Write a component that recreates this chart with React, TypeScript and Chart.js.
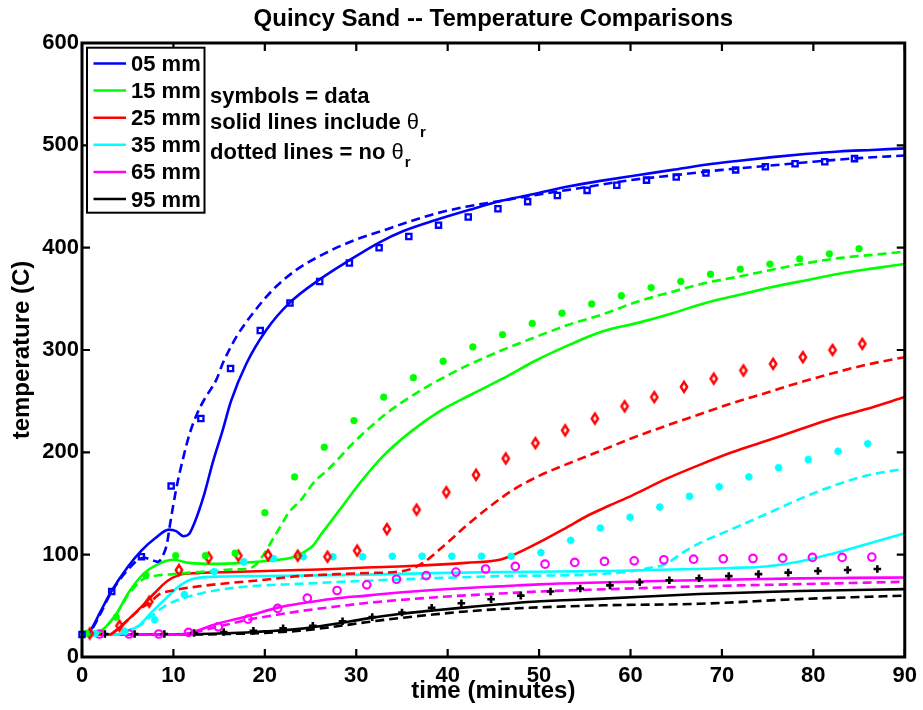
import React, { useEffect, useRef } from 'react';
import { Chart, registerables } from 'chart.js';

Chart.register(...registerables);

// ---------- axes ----------
const X_TICKS = [0, 10, 20, 30, 40, 50, 60, 70, 80, 90];
const Y_TICKS = [0, 100, 200, 300, 400, 500, 600];
const TITLE = 'Quincy Sand -- Temperature Comparisons';
const X_LABEL = 'time (minutes)';
const Y_LABEL = 'temperature (C)';

const SERIES_LABELS = ['05 mm', '15 mm', '25 mm', '35 mm', '65 mm', '95 mm'];
const SERIES_COLORS = ['#0000ff', '#00ff00', '#ff0000', '#00ffff', '#ff00ff', '#000000'];
const NOTE_LINES = ['symbols = data', 'solid lines include ', 'dotted lines = no '];

// ---------- measured data (symbols) ----------
const D05_T = [0, 3.25, 6.5, 9.75, 13, 16.25, 19.5, 22.75, 26, 29.25, 32.5, 35.75, 39, 42.25, 45.5, 48.75, 52, 55.25, 58.5, 61.75, 65, 68.25, 71.5, 74.75, 78, 81.25, 84.5];
const D05_Y = [22, 64, 98, 167, 233, 282, 319, 346, 367, 385, 400, 411, 422, 430, 438, 445, 451, 456, 461, 466, 469, 473, 476, 479, 482, 484, 487];

const D15_T = [0.5, 3.75, 7, 10.25, 13.5, 16.75, 20, 23.25, 26.5, 29.75, 33, 36.25, 39.5, 42.75, 46, 49.25, 52.5, 55.75, 59, 62.25, 65.5, 68.75, 72, 75.25, 78.5, 81.75, 85];
const D15_Y = [23, 39, 80, 99, 99, 101.5, 141, 176, 205, 231, 254, 273, 289, 303, 315, 326, 336, 345, 353, 361, 367, 374, 379, 384, 389, 394, 399];

const D25_T = [0.85, 4.1, 7.35, 10.6, 13.85, 17.1, 20.35, 23.6, 26.85, 30.1, 33.35, 36.6, 39.85, 43.1, 46.35, 49.6, 52.85, 56.1, 59.35, 62.6, 65.85, 69.1, 72.35, 75.6, 78.85, 82.1, 85.35];
const D25_Y = [23, 30.5, 54, 85, 97, 99, 99.5, 99, 98, 104, 125, 144, 161, 178, 194, 209, 221.5, 233, 245, 254, 264, 272, 280, 286.5, 293, 300, 306];

const D35_T = [1.45, 4.7, 7.95, 11.2, 14.45, 17.7, 20.95, 24.2, 27.45, 30.7, 33.95, 37.2, 40.45, 43.7, 46.95, 50.2, 53.45, 56.7, 59.95, 63.2, 66.45, 69.7, 72.95, 76.2, 79.45, 82.7, 85.95];
const D35_Y = [23, 25, 36.5, 61, 83.5, 93, 96, 98, 98, 98, 98.5, 98.5, 98.5, 98.5, 98.5, 102, 114, 126, 136.5, 146.5, 157, 166.5, 176, 185, 193, 201, 208.5];

const D65_T = [1.9, 5.15, 8.4, 11.65, 14.9, 18.15, 21.4, 24.65, 27.9, 31.15, 34.4, 37.65, 40.9, 44.15, 47.4, 50.65, 53.9, 57.15, 60.4, 63.65, 66.9, 70.15, 73.4, 76.65, 79.9, 83.15, 86.4];
const D65_Y = [22.5, 22.5, 22.5, 24, 29.5, 37, 47.5, 57.5, 65, 70.5, 76, 79.5, 83, 86, 88.5, 90.7, 92.4, 93.4, 94, 95, 95.6, 96, 96.3, 96.6, 97.3, 97.3, 97.6];

const D95_T = [2.5, 5.75, 9, 12.25, 15.5, 18.75, 22, 25.25, 28.5, 31.75, 35, 38.25, 41.5, 44.75, 48, 51.25, 54.5, 57.75, 61, 64.25, 67.5, 70.75, 74, 77.25, 80.5, 83.75, 87];
const D95_Y = [22.5, 22.5, 22.5, 23.5, 24.5, 25.5, 28, 30.5, 35, 39, 43.5, 48, 52.5, 56.5, 60, 64, 67, 70, 73, 75, 77, 79, 81, 82.5, 84, 85, 86];

// ---------- model with theta_r (solid) ----------
const S05_T = [0, 0.5, 1, 2, 3.2, 5, 6.5, 8, 9.5, 10.3, 11.1, 11.7, 12.3, 13.4, 14.3, 15.4, 16.3, 18, 20.2, 22.7, 26, 29.3, 32.5, 35.1, 38.7, 42.4, 46, 49.7, 53.3, 56.9, 60.9, 64.6, 68.2, 71.9, 75.5, 79.1, 82.8, 86.4, 90];
const S05_Y = [22, 22, 27, 44, 64, 88, 104, 116, 124.5, 123, 118, 120, 131, 160, 190, 222, 250, 287, 320, 346, 369, 388, 405, 416, 427, 437, 446, 453, 460, 465.5, 471, 476, 481, 485, 488.5, 491.5, 494, 495.5, 497];

const S15_T = [0, 1.8, 3.6, 5.1, 6.7, 8.4, 10, 11.7, 14.6, 17.5, 20.4, 23.3, 24.2, 25.3, 26, 27.1, 28.2, 30.4, 32.9, 35.8, 39.1, 42.7, 46, 49.7, 53.3, 56.9, 61, 64.6, 68.2, 71.9, 75.5, 79.1, 82.8, 86.4, 90];
const S15_Y = [22, 24, 40, 63, 81, 91, 95, 92, 91, 92, 94, 98, 102, 109, 118, 131, 144, 170, 196, 219, 240, 257, 272, 290, 305, 318, 327, 336, 346, 354, 361.5, 368, 374.5, 379.5, 384];

const S25_T = [0, 3, 3.6, 5.1, 6.6, 8, 9.3, 10.6, 12.7, 16.4, 20, 23.7, 27.5, 31.1, 34.7, 38.4, 42, 45.7, 47.5, 50, 52.9, 55.5, 57.7, 60.2, 63.9, 67.5, 71.1, 74.8, 78.4, 82.1, 85.7, 90];
const S25_Y = [22, 22, 25, 37, 50, 63, 74, 80, 82, 83, 84, 85, 86, 87.5, 88.5, 90, 92, 95, 101, 112, 126, 139, 148, 158, 174, 187.5, 200, 211, 222, 233, 242, 254];

const S35_T = [0, 4, 4.7, 6.2, 7.6, 9.1, 10.6, 12, 14.6, 18.2, 23.7, 31.1, 38.4, 45.7, 52, 57.7, 62, 67.5, 71, 74.8, 78.4, 82.1, 85.7, 90];
const S35_Y = [22, 22, 24.7, 30.5, 43.6, 56.6, 69, 76, 78.5, 79, 79.5, 80.5, 82, 83, 83.5, 84, 85, 86, 87, 88.5, 93, 101, 110, 121];

const S65_T = [0, 11, 12, 14.6, 18.2, 21.5, 24, 27.5, 31.1, 34.7, 38.4, 42, 45.7, 50, 57.7, 62, 67.5, 73, 78.4, 84, 90];
const S65_Y = [22, 22, 24, 32, 40, 48.5, 52.5, 57, 60, 63, 65.5, 67.5, 69, 71, 73, 74, 75, 76, 76.8, 77.3, 77.7];

const S95_T = [0, 10, 15, 18, 20, 23.8, 27.4, 31.1, 34.7, 38.4, 42, 45.7, 49.3, 57, 67.5, 78.4, 90];
const S95_Y = [22, 22.3, 23, 24, 25, 27.5, 32, 37.5, 42, 45.5, 48.5, 51.5, 54, 57, 61.5, 64.5, 66.3];

// ---------- model without theta_r (dashed) ----------
const N05_T = [0, 0.5, 1, 2, 3, 4, 5, 6, 6.8, 7.6, 8.3, 8.9, 9.3, 9.6, 10.3, 11, 11.8, 12.6, 13.4, 14.7, 15.4, 16.9, 18.7, 20.9, 23.4, 26.7, 30, 33, 36, 39, 42, 46, 50, 55, 60, 65, 70, 75, 80, 85, 90];
const N05_Y = [22, 22, 26, 42, 60, 74, 85, 94, 97, 95, 93, 100, 111, 128, 164, 192, 219, 238, 252, 271, 287, 313, 336, 359, 378, 395, 408, 417, 426, 434, 440, 446, 452, 459, 466, 471, 476, 480, 484, 487.5, 490];

const N15_T = [0, 1.8, 3.6, 5, 6.5, 7.5, 8.5, 10, 12, 14.6, 16.2, 18, 19, 20, 21, 22, 22.6, 24, 25.3, 27, 30, 33.3, 36.6, 38.5, 42.4, 46, 49.7, 53.3, 57, 61, 64.6, 68.2, 72, 75.5, 79, 83, 86.5, 90];
const N15_Y = [22, 24, 40, 60, 75, 78.5, 80, 81, 82.5, 84, 85.5, 86, 90, 102, 117, 132, 141, 154, 170, 184, 212, 238, 258, 268, 286, 300, 313, 325, 335, 348, 357, 365.5, 372, 378.5, 384.5, 390, 393, 396];

const N25_T = [0, 3, 3.6, 5, 6.5, 7.4, 8.4, 10.2, 12.7, 16.4, 20, 23.7, 28, 31, 34.7, 36, 37.3, 39.5, 42, 44.6, 47.1, 50, 52.9, 56.6, 60.2, 63.9, 67.5, 71.1, 74.8, 78.4, 82, 86, 90];
const N25_Y = [22, 22, 25, 36, 48, 53, 61, 65.5, 69, 72.5, 75.5, 79, 81, 82, 83.5, 86, 92, 108, 128, 147, 163, 177, 188, 201, 214, 226, 237, 248, 258, 268, 277, 286, 293];

const N35_T = [0, 4, 4.7, 6.2, 7.6, 9.1, 10.9, 14.6, 18.2, 23.7, 31.1, 38.4, 45.7, 56.6, 60.2, 62, 63.9, 65.7, 67.5, 71.1, 74.8, 78.4, 82.1, 85.7, 90];
const N35_Y = [22, 22, 24.7, 30, 40, 50, 57, 65, 69, 71.5, 74.5, 77, 79, 81, 84, 87, 91, 102, 111, 125, 139.5, 154, 167, 177, 184];

const N65_T = [0, 11, 12, 14.6, 18.2, 21.8, 24, 27.5, 31.1, 38.4, 45.7, 50, 57.7, 67.5, 78.4, 90];
const N65_Y = [22, 22, 23.5, 29, 36.4, 42, 45, 49, 52.7, 58.2, 62, 64, 66.3, 69, 71.2, 73.5];

const N95_T = [0, 12, 16, 20, 23.8, 27.5, 31.1, 34.7, 38.4, 42, 45.7, 50, 57, 67.5, 78.4, 90];
const N95_Y = [22, 22, 22.5, 23.5, 25.7, 29.5, 34, 38, 41.5, 44.5, 46.8, 48.5, 50.5, 52, 56.6, 60];

const DATA_T = [D05_T, D15_T, D25_T, D35_T, D65_T, D95_T];
const DATA_Y = [D05_Y, D15_Y, D25_Y, D35_Y, D65_Y, D95_Y];
const SOLID_T = [S05_T, S15_T, S25_T, S35_T, S65_T, S95_T];
const SOLID_Y = [S05_Y, S15_Y, S25_Y, S35_Y, S65_Y, S95_Y];
const DASH_T = [N05_T, N15_T, N25_T, N35_T, N65_T, N95_T];
const DASH_Y = [N05_Y, N15_Y, N25_Y, N35_Y, N65_Y, N95_Y];

const zip = (t: number[], y: number[]) => t.map((v, i) => ({ x: v, y: y[i] }));

const FONT = '"Liberation Sans", Arial, Helvetica, sans-serif';

function makeDiamond(color: string): HTMLCanvasElement {
  const c = document.createElement('canvas');
  c.width = 14;
  c.height = 20;
  const g = c.getContext('2d')!;
  g.strokeStyle = color;
  g.lineWidth = 2.4;
  g.beginPath();
  g.moveTo(7, 10 - 5);
  g.lineTo(7 + 3.2, 10);
  g.lineTo(7, 10 + 5);
  g.lineTo(7 - 3.2, 10);
  g.closePath();
  g.stroke();
  return c;
}

const framePlugin = {
  id: 'matlabFrame',
  afterDraw(chart: any) {
    const { ctx, chartArea: a, scales } = chart;
    const xs = scales.x;
    const ys = scales.y;
    ctx.save();
    ctx.strokeStyle = '#000';
    ctx.lineWidth = 2.2;
    ctx.beginPath();
    for (const v of X_TICKS) {
      const px = xs.getPixelForValue(v);
      ctx.moveTo(px, a.bottom);
      ctx.lineTo(px, a.bottom - 8);
      ctx.moveTo(px, a.top);
      ctx.lineTo(px, a.top + 8);
    }
    for (const v of Y_TICKS) {
      const py = ys.getPixelForValue(v);
      ctx.moveTo(a.left, py);
      ctx.lineTo(a.left + 8, py);
      ctx.moveTo(a.right, py);
      ctx.lineTo(a.right - 8, py);
    }
    ctx.stroke();
    ctx.lineWidth = 3;
    ctx.strokeRect(a.left, a.top, a.right - a.left, a.bottom - a.top);

    // legend box
    const bx = a.left + 5;
    const by = a.top + 4.7;
    const bw = 117.5;
    const bh = 165;
    ctx.fillStyle = '#fff';
    ctx.fillRect(bx, by, bw, bh);
    ctx.lineWidth = 2;
    ctx.strokeStyle = '#000';
    ctx.strokeRect(bx, by, bw, bh);
    ctx.font = 'bold 22px ' + FONT;
    ctx.textBaseline = 'middle';
    ctx.textAlign = 'left';
    SERIES_LABELS.forEach((lab, i) => {
      const yy = a.top + 20.5 + i * 27.1;
      ctx.strokeStyle = SERIES_COLORS[i];
      ctx.lineWidth = 2.5;
      ctx.beginPath();
      ctx.moveTo(a.left + 11.5, yy);
      ctx.lineTo(a.left + 44, yy);
      ctx.stroke();
      ctx.fillStyle = '#000';
      ctx.fillText(lab, a.left + 49, yy + 1.5);
    });

    // notes
    ctx.textBaseline = 'alphabetic';
    const nx = a.left + 128;
    const baselines = [a.top + 59.7, a.top + 85.7, a.top + 116];
    NOTE_LINES.forEach((txt, i) => {
      ctx.font = 'bold 22px ' + FONT;
      ctx.fillStyle = '#000';
      ctx.fillText(txt, nx, baselines[i]);
      if (i > 0) {
        const w = ctx.measureText(txt).width;
        ctx.font = '22px ' + FONT;
        ctx.fillText('\u03b8', nx + w, baselines[i]);
        const tw = ctx.measureText('\u03b8').width;
        ctx.font = 'bold 15px ' + FONT;
        ctx.fillText('r', nx + w + tw + 1, baselines[i] + 8);
      }
    });
    ctx.restore();
  },
};

export default function App() {
  const ref = useRef<HTMLCanvasElement | null>(null);

  useEffect(() => {
    if (!ref.current) return;
    const diamond = makeDiamond(SERIES_COLORS[2]);
    const markerStyles: any[] = [
      { pointStyle: 'rect', pointRadius: 3.7, borderWidth: 2.3, backgroundColor: 'rgba(0,0,0,0)' },
      { pointStyle: 'circle', pointRadius: 3.4, borderWidth: 0.5, backgroundColor: SERIES_COLORS[1] },
      { pointStyle: diamond, pointRadius: 6, borderWidth: 2, backgroundColor: 'rgba(0,0,0,0)' },
      { pointStyle: 'star', pointRadius: 3.8, borderWidth: 2.2, backgroundColor: 'rgba(0,0,0,0)' },
      { pointStyle: 'circle', pointRadius: 3.8, borderWidth: 2.1, backgroundColor: 'rgba(0,0,0,0)' },
      { pointStyle: 'cross', pointRadius: 3.8, borderWidth: 2.6, backgroundColor: 'rgba(0,0,0,0)' },
    ];

    const datasets: any[] = [];
    SERIES_LABELS.forEach((lab, i) => {
      datasets.push({
        label: lab + ' data',
        data: zip(DATA_T[i], DATA_Y[i]),
        showLine: false,
        borderColor: SERIES_COLORS[i],
        pointBorderColor: SERIES_COLORS[i],
        pointBackgroundColor: markerStyles[i].backgroundColor,
        pointStyle: markerStyles[i].pointStyle,
        pointRadius: markerStyles[i].pointRadius,
        pointBorderWidth: markerStyles[i].borderWidth,
        clip: false,
      });
    });
    SERIES_LABELS.forEach((lab, i) => {
      datasets.push({
        label: lab + ' with theta_r',
        data: zip(SOLID_T[i], SOLID_Y[i]),
        borderColor: SERIES_COLORS[i],
        borderWidth: 2.6,
        pointRadius: 0,
        cubicInterpolationMode: 'monotone',
        fill: false,
      });
      datasets.push({
        label: lab + ' no theta_r',
        data: zip(DASH_T[i], DASH_Y[i]),
        borderColor: SERIES_COLORS[i],
        borderWidth: 2.6,
        borderDash: [9, 5],
        pointRadius: 0,
        cubicInterpolationMode: 'monotone',
        fill: false,
      });
    });

    const chart = new Chart(ref.current, {
      type: 'line',
      data: { datasets },
      options: {
        animation: false,
        responsive: false,
        devicePixelRatio: 1,
        layout: { padding: { left: 0, right: 18, top: 0, bottom: 0 } },
        plugins: {
          legend: { display: false },
          tooltip: { enabled: false },
          title: {
            display: true,
            text: TITLE,
            fullSize: false,
            color: '#000',
            font: { family: FONT, size: 24, weight: 'bold', lineHeight: 1.2 },
            padding: { top: 5, bottom: 9.2 },
          },
        },
        scales: {
          x: {
            type: 'linear',
            min: 0,
            max: 90,
            afterFit: (s: any) => { s.height = 53; },
            afterBuildTicks: (s: any) => { s.ticks = X_TICKS.map((v) => ({ value: v })); },
            grid: { display: false, drawTicks: false },
            border: { display: false },
            ticks: {
              color: '#000',
              padding: 6,
              maxRotation: 0,
              font: { family: FONT, size: 22, weight: 'bold', lineHeight: 1.2 },
            },
            title: {
              display: true,
              text: X_LABEL,
              color: '#000',
              font: { family: FONT, size: 24, weight: 'bold', lineHeight: 1.2 },
              padding: { top: 0, bottom: 4.6 },
            },
          },
          y: {
            type: 'linear',
            min: 0,
            max: 600,
            afterFit: (s: any) => { s.width = 82; },
            afterBuildTicks: (s: any) => { s.ticks = Y_TICKS.map((v) => ({ value: v })); },
            grid: { display: false, drawTicks: false },
            border: { display: false },
            ticks: {
              color: '#000',
              padding: 3,
              font: { family: FONT, size: 22, weight: 'bold', lineHeight: 1.2 },
            },
            title: {
              display: true,
              text: Y_LABEL,
              color: '#000',
              font: { family: FONT, size: 24, weight: 'bold', lineHeight: 1.2 },
              padding: { top: 7.6, bottom: 0 },
            },
          },
        },
      },
      plugins: [framePlugin],
    });
    return () => chart.destroy();
  }, []);

  return (
    <div style={{ position: 'fixed', left: 0, top: 0, width: 923, height: 710, background: '#fff' }}>
      <canvas ref={ref} width={923} height={710} style={{ width: 923, height: 710, display: 'block' }} />
    </div>
  );
}
